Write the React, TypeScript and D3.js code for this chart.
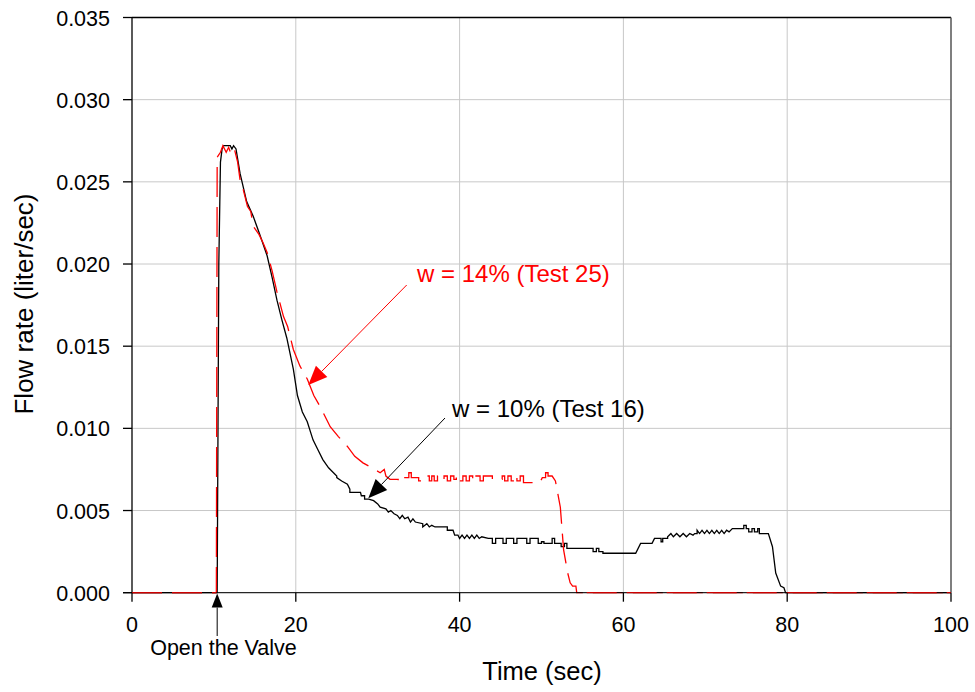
import React from "react";
import * as d3 from "d3";

// ---- data: [time (sec), flow rate (liter/sec)] ----
const test16: [number, number][] = [
  [0, 0], [10.4, 0], [10.5, 0.0100], [10.6, 0.0200], [10.8, 0.0262], [11.0, 0.0270], [11.2, 0.0272],
  [12.0, 0.0272], [12.2, 0.0270], [12.4, 0.0272], [12.7, 0.0270], [13.2, 0.0255], [14.0, 0.0238],
  [14.8, 0.0229], [15.6, 0.0218], [16.5, 0.0205], [17.1, 0.0192], [17.7, 0.0178], [18.3, 0.0166],
  [18.9, 0.0155], [19.7, 0.0136], [20.2, 0.0120], [20.8, 0.0110], [21.4, 0.0104], [22.1, 0.0093],
  [22.7, 0.0087], [23.3, 0.0081], [24.0, 0.0076], [24.6, 0.0073], [25.0, 0.0071], [25.0, 0.0070],
  [25.6, 0.0068], [26.3, 0.0066], [26.6, 0.0063], [26.6, 0.0061], [27.9, 0.0061], [28.0, 0.0059],
  [28.4, 0.0059], [28.4, 0.0057], [28.9, 0.0057], [29.5, 0.0056], [30.0, 0.0054], [30.3, 0.0052],
  [31.0, 0.0051], [31.3, 0.0049], [31.6, 0.0050], [32.0, 0.0048], [32.4, 0.0047], [32.7, 0.0045],
  [33.0, 0.0047], [33.3, 0.0045], [33.7, 0.0046], [34.0, 0.0043], [34.3, 0.0045], [34.6, 0.0043],
  [35.5, 0.0042], [35.5, 0.0040], [36.0, 0.0042], [36.3, 0.0040], [36.6, 0.0041], [37.0, 0.0040],
  [38.5, 0.0040], [38.5, 0.0038], [39.2, 0.0038], [39.4, 0.0035], [39.8, 0.0035], [40.0, 0.0033],
  [40.3, 0.0035], [40.6, 0.0033], [40.9, 0.0035], [41.2, 0.0033], [41.5, 0.0035], [41.8, 0.0033],
  [42.1, 0.0035], [42.4, 0.0033], [42.7, 0.0034], [43.5, 0.0033], [44.0, 0.0033], [44.0, 0.0030],
  [44.4, 0.0030], [44.4, 0.0033], [45.3, 0.0033], [45.3, 0.0030], [45.7, 0.0030], [45.7, 0.0033],
  [46.6, 0.0033], [46.6, 0.0030], [47.0, 0.0030], [47.0, 0.0033], [48.2, 0.0033], [48.2, 0.0030],
  [48.6, 0.0030], [48.6, 0.0033], [49.6, 0.0033], [49.6, 0.0030], [50.0, 0.0030], [50.0, 0.0031],
  [50.3, 0.0031], [50.3, 0.0030], [51.3, 0.0030], [51.3, 0.0033], [51.6, 0.0033], [51.6, 0.0030],
  [52.4, 0.0030], [52.4, 0.0028], [52.8, 0.0028], [52.8, 0.0030], [53.1, 0.0030], [53.1, 0.0027],
  [56.3, 0.0027], [56.3, 0.0025], [56.7, 0.0025], [56.7, 0.0027], [57.0, 0.0027], [57.0, 0.0025],
  [57.5, 0.0025], [57.5, 0.0024], [61.5, 0.0024], [62.1, 0.0030], [63.5, 0.0030], [63.8, 0.0033],
  [64.6, 0.0033], [64.6, 0.0031], [64.8, 0.0031], [64.8, 0.0033], [65.4, 0.0033], [65.4, 0.0034],
  [65.8, 0.0036], [66.1, 0.0034], [66.5, 0.0036], [66.9, 0.0034], [67.3, 0.0036], [67.7, 0.0034],
  [68.1, 0.0036], [68.5, 0.0035], [68.7, 0.0036], [69.0, 0.0036], [69.0, 0.0038], [69.3, 0.0036],
  [69.6, 0.0038], [69.9, 0.0036], [70.2, 0.0038], [70.5, 0.0036], [70.8, 0.0038], [71.1, 0.0036],
  [71.4, 0.0038], [71.7, 0.0036], [72.0, 0.0038], [72.3, 0.0036], [72.6, 0.0038], [72.9, 0.0037],
  [73.3, 0.0039], [74.7, 0.0039], [74.7, 0.0041], [75.0, 0.0041], [75.0, 0.0039], [75.3, 0.0039],
  [75.3, 0.0037], [75.7, 0.0037], [75.7, 0.0039], [76.0, 0.0039], [76.0, 0.0037], [76.4, 0.0037],
  [76.4, 0.0039], [76.6, 0.0039], [76.6, 0.0036], [77.7, 0.0036], [78.2, 0.0028], [78.6, 0.0012],
  [79.2, 0.0004], [79.6, 0.0003], [79.8, 0], [100, 0],
];

const test25: [number, number][] = [
  [0, 0], [10.3, 0], [10.4, 0.0265], [10.8, 0.0268], [11.1, 0.0272], [11.5, 0.0268], [11.8, 0.0271],
  [12.1, 0.0267], [12.5, 0.0270], [12.9, 0.0262], [13.2, 0.0251], [13.6, 0.0245], [14.1, 0.0235],
  [14.5, 0.0232], [14.8, 0.0223], [15.5, 0.0218], [16.0, 0.0213], [16.5, 0.0207], [17.1, 0.0196],
  [17.7, 0.0183], [18.5, 0.0168], [19.0, 0.0162], [19.7, 0.0148], [20.5, 0.0138], [21.4, 0.0130],
  [22.2, 0.0120], [23.0, 0.0113], [24.2, 0.0101], [25.2, 0.0095], [26.3, 0.0089], [27.2, 0.0083],
  [28.2, 0.0079], [29.3, 0.0076], [30.3, 0.0073], [30.8, 0.0075], [31.0, 0.0071], [31.5, 0.0069],
  [32.5, 0.0069], [32.5, 0.0068], [33.2, 0.0068], [33.2, 0.0070], [33.8, 0.0070], [33.8, 0.0073],
  [34.1, 0.0073], [34.1, 0.0070], [35.0, 0.0070], [35.0, 0.0068], [35.8, 0.0068], [36.0, 0.0071],
  [36.3, 0.0071], [36.3, 0.0068], [36.6, 0.0068], [36.6, 0.0071], [36.9, 0.0071], [36.9, 0.0068],
  [37.3, 0.0068], [37.3, 0.0071], [37.7, 0.0071], [37.7, 0.0069], [38.1, 0.0069], [38.1, 0.0071],
  [38.5, 0.0071], [38.5, 0.0068], [38.9, 0.0068], [38.9, 0.0071], [39.3, 0.0071], [39.3, 0.0069],
  [39.6, 0.0069], [39.6, 0.0071], [40.0, 0.0071], [40.0, 0.0068], [40.4, 0.0068], [40.4, 0.0071],
  [40.8, 0.0071], [40.8, 0.0068], [41.2, 0.0068], [41.2, 0.0071], [41.6, 0.0071], [41.6, 0.0068],
  [42.0, 0.0068], [42.0, 0.0071], [42.5, 0.0071], [42.5, 0.0068], [42.9, 0.0068], [42.9, 0.0071],
  [44.0, 0.0071], [44.0, 0.0069], [45.2, 0.0069], [45.2, 0.0071], [45.5, 0.0071], [45.5, 0.0068],
  [45.9, 0.0068], [45.9, 0.0071], [46.3, 0.0071], [46.3, 0.0068], [46.7, 0.0068], [46.7, 0.0071],
  [47.0, 0.0071], [47.0, 0.0068], [47.4, 0.0068], [47.4, 0.0071], [47.8, 0.0071], [47.8, 0.0067],
  [49.8, 0.0067], [50.1, 0.0070], [50.5, 0.0070], [50.5, 0.0073], [50.8, 0.0073], [50.8, 0.0071],
  [51.3, 0.0071], [51.7, 0.0068], [52.3, 0.0052], [52.7, 0.0026], [53.2, 0.0012], [53.5, 0.0006],
  [53.8, 0.0004], [54.2, 0.0004], [54.3, 0], [100, 0],
];

const xTicks = [0, 20, 40, 60, 80, 100];
const yTicks = [0, 0.005, 0.01, 0.015, 0.02, 0.025, 0.03, 0.035];
const xTitle = "Time (sec)";
const yTitle = "Flow rate (liter/sec)";
const label14 = "w = 14% (Test 25)";
const label10 = "w = 10% (Test 16)";
const valveLabel = "Open the Valve";
const valveTime = 10.4;

const W = 975;
const H = 692;
const FONT = "Arial, 'Liberation Sans', sans-serif";

function Arrow({ x1, y1, x2, y2, color, len, half, width }: any) {
  const ang = Math.atan2(y2 - y1, x2 - x1);
  const bx = x2 - len * Math.cos(ang);
  const by = y2 - len * Math.sin(ang);
  const px = -Math.sin(ang) * half;
  const py = Math.cos(ang) * half;
  return (
    <g>
      <line x1={x1} y1={y1} x2={bx} y2={by} stroke={color} strokeWidth={width} />
      <path d={`M${x2},${y2}L${bx + px},${by + py}L${bx - px},${by - py}Z`} fill={color} />
    </g>
  );
}

export default function App() {
  const x = d3.scaleLinear().domain([0, 100]).range([132, 951]);
  const y = d3.scaleLinear().domain([0, 0.035]).range([592.7, 17.5]);

  const line = d3
    .line<[number, number]>()
    .x((d) => x(d[0]))
    .y((d) => y(d[1]));

  const x0 = x(0);
  const x1 = x(100);
  const y0 = y(0);
  const yTop = y(0.035);

  return (
    <svg
      width={W}
      height={H}
      style={{ position: "absolute", left: 0, top: 0, background: "#fff" }}
      fontFamily={FONT}
    >
      <rect x={0} y={0} width={W} height={H} fill="#fff" />
      {/* grid */}
      {yTicks.slice(1, -1).map((t) => (
        <line key={"gy" + t} x1={x0} x2={x1} y1={y(t)} y2={y(t)} stroke="#c8c8c8" strokeWidth={1} />
      ))}
      {xTicks.slice(1, -1).map((t) => (
        <line key={"gx" + t} x1={x(t)} x2={x(t)} y1={yTop} y2={y0} stroke="#c8c8c8" strokeWidth={1} />
      ))}
      {/* frame */}
      <line x1={x0} x2={x1} y1={yTop} y2={yTop} stroke="#000" strokeWidth={1.3} />
      <line x1={x1} x2={x1} y1={yTop} y2={y0} stroke="#555" strokeWidth={1.5} />

      {/* data */}
      <path d={line(test16) as string} fill="none" stroke="#000" strokeWidth={1.3} />
      <path d={line(test25) as string} fill="none" stroke="#ff0000" strokeWidth={1.3} strokeDasharray="30,10" />

      {/* axes */}
      <line x1={x0} x2={x0} y1={yTop} y2={y0} stroke="#000" strokeWidth={1.3} />
      <line x1={x0 - 9} x2={x1} y1={y0} y2={y0} stroke="#000" strokeWidth={1.3} opacity={0.85} />
      <path d={line(test25.filter((d) => d[0] <= valveTime && d[1] === 0)) as string}
        stroke="#cc0000" strokeWidth={1.3} strokeDasharray="30,10" fill="none" />
      <path d={line(test25.filter((d) => d[0] >= 54.3)) as string}
        stroke="#cc0000" strokeWidth={1.3} strokeDasharray="30,10" strokeDashoffset={-10} fill="none" />
      {yTicks.map((t) => (
        <g key={"ty" + t}>
          <line x1={x0 - 9} x2={x0} y1={y(t)} y2={y(t)} stroke="#000" strokeWidth={1.3} />
          <text x={110} y={y(t) + 8} textAnchor="end" fontSize={21.5} fill="#000">
            {d3.format(".3f")(t)}
          </text>
        </g>
      ))}
      {xTicks.map((t) => (
        <g key={"tx" + t}>
          <line x1={x(t)} x2={x(t)} y1={y0} y2={y0 + 9} stroke="#000" strokeWidth={1.3} />
          <text x={x(t)} y={632} textAnchor="middle" fontSize={21.5} fill="#000">
            {t}
          </text>
        </g>
      ))}

      {/* titles */}
      <text x={542} y={680} textAnchor="middle" fontSize={25.5} fill="#000">
        {xTitle}
      </text>
      <text
        transform={`translate(33,304) rotate(-90)`}
        textAnchor="middle"
        fontSize={26}
        fill="#000"
      >
        {yTitle}
      </text>

      {/* annotations */}
      <text x={417} y={282} fontSize={24} fill="#ff0000">
        {label14}
      </text>
      <Arrow x1={406.7} y1={285} x2={308.3} y2={385} color="#ff0000" len={19} half={8} width={1} />
      <text x={452} y={417} fontSize={24} fill="#000">
        {label10}
      </text>
      <Arrow x1={445} y1={418} x2={368.3} y2={498.3} color="#000" len={19} half={8} width={1} />
      <Arrow x1={x(valveTime)} y1={636} x2={x(valveTime)} y2={593.5} color="#000" len={14} half={5.5} width={1} />
      <text x={223.5} y={655} textAnchor="middle" fontSize={21.5} fill="#000">
        {valveLabel}
      </text>
    </svg>
  );
}
